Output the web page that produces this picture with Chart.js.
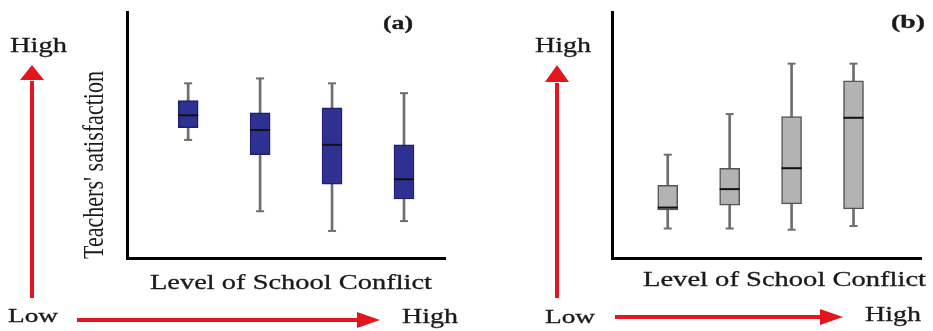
<!DOCTYPE html>
<html><head><meta charset="utf-8">
<script src="https://cdn.jsdelivr.net/npm/chart.js@4"></script>
<style>
html,body{margin:0;padding:0;background:#fff;width:933px;height:331px;overflow:hidden}
#wa{position:absolute;left:0;top:0;width:466px;height:331px}
#wb{position:absolute;left:466px;top:0;width:467px;height:331px}
</style></head><body>
<div id="wa"><canvas id="ca" width="466" height="331"></canvas></div>
<div id="wb"><canvas id="cb" width="467" height="331"></canvas></div>
<script>
// Levels of school conflict (low -> high), positions on the x axis
const categories = [1, 2, 3, 4];

// Panel (a): teachers' satisfaction (arbitrary 0-100 units)
const aMin    = [48, 19, 11, 15];
const aQ1     = [53, 42, 30, 24];
const aMedian = [58, 52, 46, 32];
const aQ3     = [64, 59, 61, 46];
const aMax    = [71, 73, 71, 67];

// Panel (b)
const bMin    = [12, 12, 11.5, 13];
const bQ1     = [19.5, 21.5, 22, 20];
const bMedian = [20.5, 28, 36.5, 57];
const bQ3     = [29.5, 36.5, 57.5, 72];
const bMax    = [42, 58.5, 79, 79];

const xTitle = 'Level of School Conflict';
const yTitle = "Teachers' satisfaction";
const highLabel = 'High';
const lowLabel = 'Low';
const panelA = '(a)';
const panelB = '(b)';

const RED = '#e3161d';
const SERIF = '"Liberation Serif", "DejaVu Serif", serif';

function fitText(ctx, text, left, right, baseline, size, weight) {
  ctx.save();
  ctx.font = (weight || 'normal') + ' ' + size + 'px ' + SERIF;
  ctx.fillStyle = '#1a1a1a';
  ctx.strokeStyle = '#1a1a1a';
  ctx.lineWidth = 0.3;
  ctx.textBaseline = 'alphabetic';
  ctx.textAlign = 'left';
  const w = ctx.measureText(text).width;
  const target = right - left;
  ctx.translate(left, baseline);
  if (w > 0) ctx.scale(target / w, 1);
  ctx.fillText(text, 0, 0);
  ctx.strokeText(text, 0, 0);
  ctx.restore();
}
function fitTextV(ctx, text, bottom, top, baselineX, size) {
  ctx.save();
  ctx.font = size + 'px ' + SERIF;
  ctx.fillStyle = '#1a1a1a';
  ctx.textBaseline = 'alphabetic';
  const w = ctx.measureText(text).width;
  const target = bottom - top;
  ctx.translate(baselineX, bottom);
  ctx.rotate(-Math.PI / 2);
  if (w > 0) ctx.scale(target / w, 1);
  ctx.fillText(text, 0, 0);
  ctx.restore();
}
function arrowUp(ctx, x, yBottom, yBase, yTip, halfW) {
  ctx.save();
  ctx.strokeStyle = RED; ctx.fillStyle = RED; ctx.lineWidth = 4;
  ctx.beginPath(); ctx.moveTo(x, yBottom); ctx.lineTo(x, yBase + 1); ctx.stroke();
  ctx.beginPath(); ctx.moveTo(x, yTip); ctx.lineTo(x - halfW, yBase); ctx.lineTo(x + halfW, yBase); ctx.closePath(); ctx.fill();
  ctx.restore();
}
function arrowRight(ctx, y, xLeft, xBase, xTip, halfH) {
  ctx.save();
  ctx.strokeStyle = RED; ctx.fillStyle = RED; ctx.lineWidth = 4;
  ctx.beginPath(); ctx.moveTo(xLeft, y); ctx.lineTo(xBase + 1, y); ctx.stroke();
  ctx.beginPath(); ctx.moveTo(xTip, y); ctx.lineTo(xBase, y - halfH); ctx.lineTo(xBase, y + halfH); ctx.closePath(); ctx.fill();
  ctx.restore();
}

function makeBox(canvas, s, style) {
  const pts = (arr) => categories.map((c, i) => ({ x: c, y: arr[i] }));
  const rng = (lo, hi) => categories.map((c, i) => ({ x: c, y: [lo[i], hi[i]] }));
  return new Chart(canvas, {
    type: 'bar',
    data: {
      datasets: [
        { type: 'bar', data: rng(s.min, s.max), backgroundColor: '#6e6e6e', barThickness: 2, grouped: false, order: 4 },
        { type: 'line', data: pts(s.max), showLine: false, pointStyle: 'line', pointRadius: 4, pointBorderWidth: 2, pointBorderColor: '#6e6e6e', order: 3 },
        { type: 'line', data: pts(s.min), showLine: false, pointStyle: 'line', pointRadius: 4, pointBorderWidth: 2, pointBorderColor: '#6e6e6e', order: 3 },
        { type: 'bar', data: rng(s.q1, s.q3), backgroundColor: style.fill, borderColor: style.border, borderWidth: 1.5, borderSkipped: false, barThickness: 20, grouped: false, order: 1 },
        { type: 'line', data: pts(s.med), showLine: false, pointStyle: 'line', pointRadius: 10, pointBorderWidth: 2, pointBorderColor: '#111', order: 0 }
      ]
    },
    options: {
      responsive: false, devicePixelRatio: 1, animation: false,
      layout: { padding: style.padding },
      plugins: { legend: { display: false }, tooltip: { enabled: false } },
      scales: {
        x: { type: 'linear', min: style.xmin, max: style.xmax, offset: false,
             grid: { display: false, drawTicks: false }, ticks: { display: false },
             border: { display: true, color: '#000', width: 3 } },
        y: { min: 0, max: 100,
             grid: { display: false, drawTicks: false }, ticks: { display: false },
             border: { display: true, color: '#000', width: 3 } }
      }
    },
    plugins: [{ id: 'deco', afterDraw: style.deco }]
  });
}

makeBox(document.getElementById('ca'),
  { min: aMin, q1: aQ1, med: aMedian, q3: aQ3, max: aMax },
  { fill: '#2e3192', border: '#1c1f6e', xmin: 0.15, xmax: 4.57,
    padding: { left: 127, right: 21, top: 7, bottom: 73 },
    deco: (chart) => {
      const ctx = chart.ctx;
      arrowUp(ctx, 32, 298, 80, 65, 12);
      arrowRight(ctx, 320, 77, 357, 380, 8);
      fitText(ctx, highLabel, 10, 67, 52, 21);
      fitText(ctx, lowLabel, 8, 58, 322, 18);
      fitText(ctx, highLabel, 402, 458, 323, 21);
      fitText(ctx, panelA, 383, 413, 29, 18, 'bold');
      fitText(ctx, xTitle, 150, 432, 289, 21);
      fitTextV(ctx, yTitle, 259, 71, 103, 29);
    } });

makeBox(document.getElementById('cb'),
  { min: bMin, q1: bQ1, med: bMedian, q3: bQ3, max: bMax },
  { fill: '#b3b3b3', border: '#555', xmin: 0.10, xmax: 5.09,
    padding: { left: 146, right: 0, top: 7, bottom: 73 },
    deco: (chart) => {
      const ctx = chart.ctx;
      const o = 466;
      arrowUp(ctx, 557 - o, 298, 82, 65, 12);
      arrowRight(ctx, 317, 615 - o, 820 - o, 843 - o, 8);
      fitText(ctx, highLabel, 535 - o, 591 - o, 52, 21);
      fitText(ctx, lowLabel, 545 - o, 595 - o, 323, 18);
      fitText(ctx, highLabel, 865 - o, 921 - o, 321, 21);
      fitText(ctx, panelB, 891 - o, 925 - o, 28, 18, 'bold');
      fitText(ctx, xTitle, 643 - o, 926 - o, 286, 21);
    } });
</script>
</body></html>
